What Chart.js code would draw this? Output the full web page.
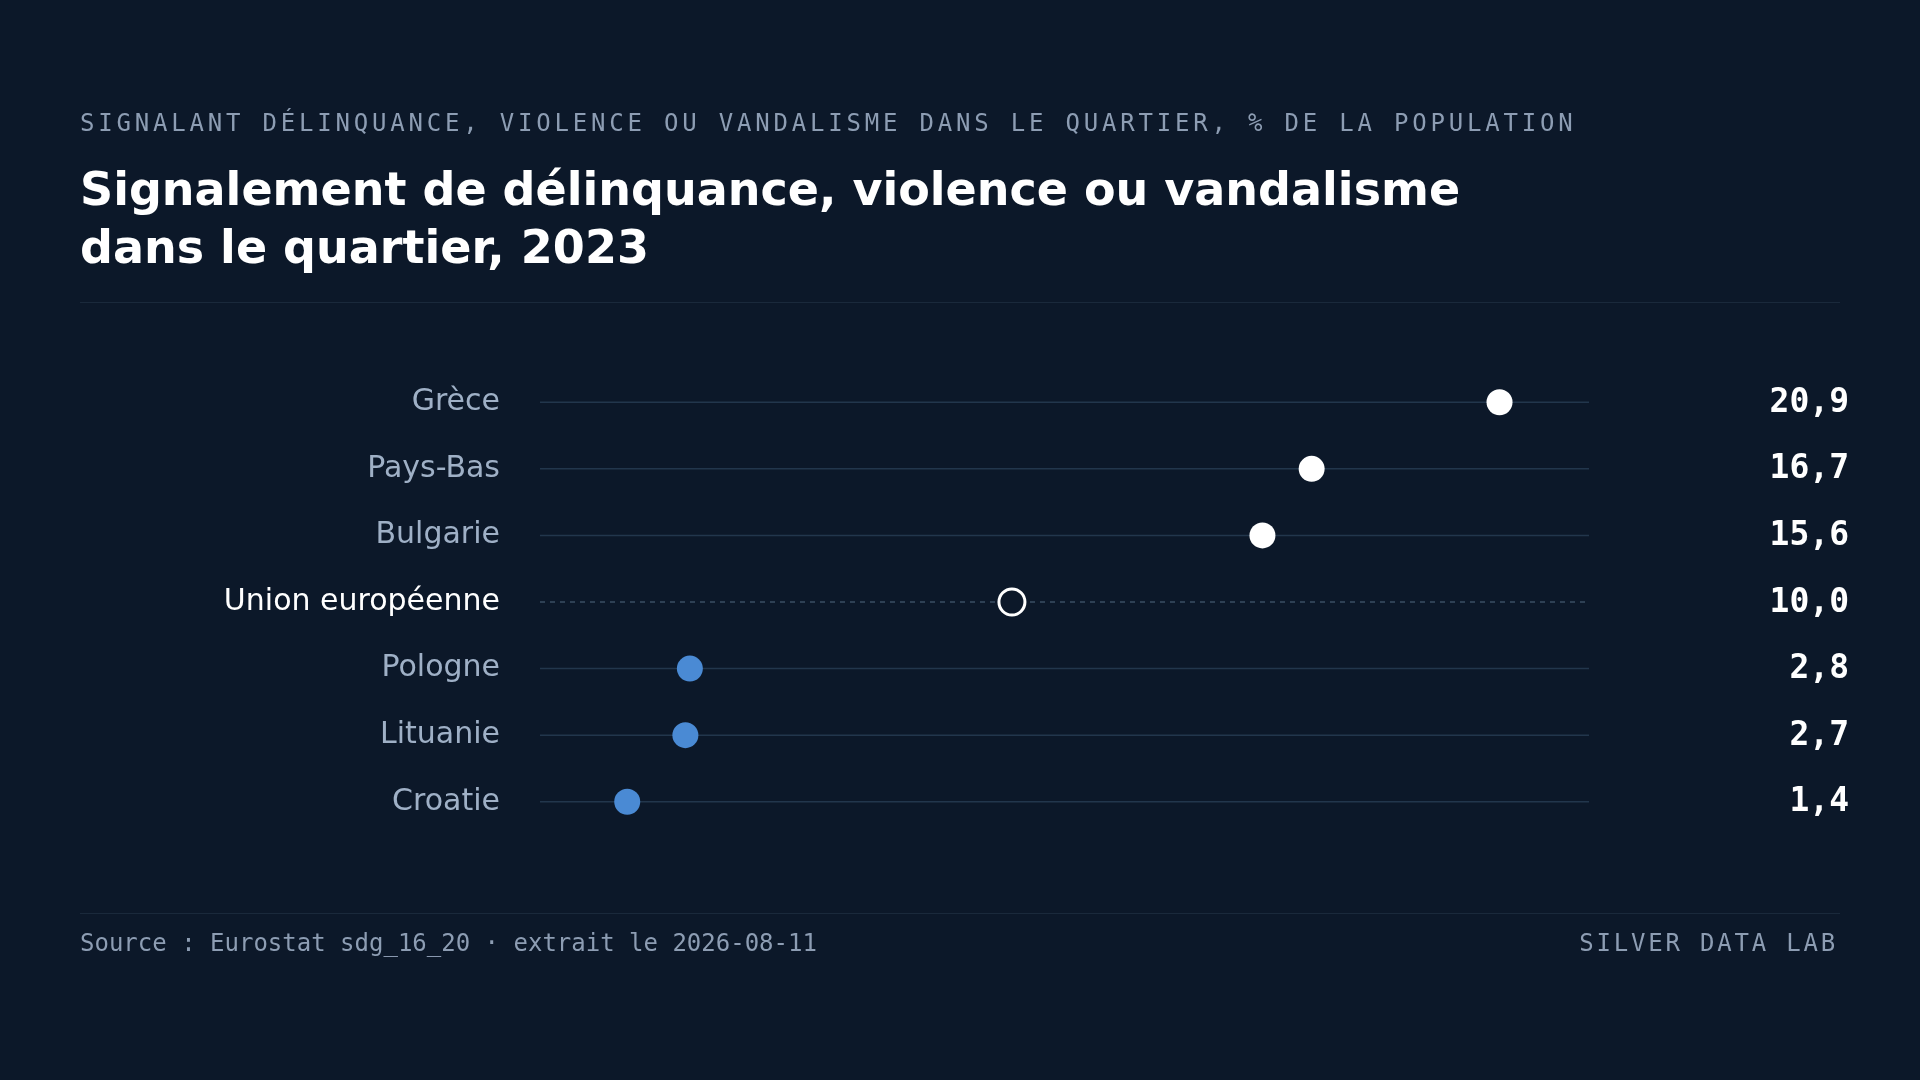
<!DOCTYPE html>
<html>
<head>
<meta charset="utf-8">
<script src="https://cdn.jsdelivr.net/npm/chart.js@4"></script>
<style>
  html, body { margin: 0; padding: 0; background: #0c1829; width: 1920px; height: 1080px; overflow: hidden; }
  #chart { position: absolute; left: 0; top: 0; }
  .txt { position: absolute; white-space: nowrap; }
  #kicker { left: 80px; top: 109px; font: 24px "DejaVu Sans Mono", monospace; letter-spacing: 3.8px; color: #8d9db3; }
  #title { left: 80px; top: 160px; font: bold 46px "DejaVu Sans", sans-serif; line-height: 58px; color: #ffffff; }
  .rule { position: absolute; left: 80px; width: 1760px; height: 1px; background: #1a293b; }
  #source { left: 80px; top: 929px; font: 24px "DejaVu Sans Mono", monospace; color: #8d9db3; }
  #brand { right: 82px; top: 929px; font: 24px "DejaVu Sans Mono", monospace; letter-spacing: 2.8px; color: #8d9db3; }
</style>
</head>
<body>
<canvas id="chart" width="1920" height="1080"></canvas>
<div class="txt" id="kicker">SIGNALANT DÉLINQUANCE, VIOLENCE OU VANDALISME DANS LE QUARTIER, % DE LA POPULATION</div>
<div class="txt" id="title">Signalement de délinquance, violence ou vandalisme<br>dans le quartier, 2023</div>
<div class="rule" style="top:302px"></div>
<div class="rule" style="top:913px"></div>
<div class="txt" id="source">Source : Eurostat sdg_16_20 · extrait le 2026-08-11</div>
<div class="txt" id="brand">SILVER DATA LAB</div>
<script>
const countries = ['Grèce', 'Pays-Bas', 'Bulgarie', 'Union européenne', 'Pologne', 'Lituanie', 'Croatie'];
const values = [20.9, 16.7, 15.6, 10.0, 2.8, 2.7, 1.4];
const euName = 'Union européenne';
const euValue = 10.0;

function dotColor(v, name) {
  if (name === euName) return '#0c1829';
  return v > euValue ? '#ffffff' : '#4a8ad4';
}

const rowsPlugin = {
  id: 'rows',
  beforeDatasetsDraw(chart) {
    const ctx = chart.ctx;
    const area = chart.chartArea;
    const y = chart.scales.y;
    ctx.save();
    countries.forEach((name, i) => {
      const py = y.getPixelForValue(i);
      ctx.beginPath();
      ctx.lineWidth = 1.5;
      ctx.strokeStyle = name === euName ? '#3a4d63' : '#22364c';
      ctx.setLineDash(name === euName ? [5, 5] : []);
      ctx.moveTo(area.left, py);
      ctx.lineTo(area.right, py);
      ctx.stroke();
    });
    ctx.restore();
  },
  afterDatasetsDraw(chart) {
    const ctx = chart.ctx;
    const y = chart.scales.y;
    ctx.save();
    ctx.textBaseline = 'middle';
    countries.forEach((name, i) => {
      const py = y.getPixelForValue(i);
      ctx.textAlign = 'right';
      ctx.font = '30px "DejaVu Sans", sans-serif';
      ctx.fillStyle = name === euName ? '#ffffff' : '#9fb0c6';
      ctx.fillText(name, 500, py);
      ctx.font = 'bold 33px "DejaVu Sans Mono", monospace';
      ctx.fillStyle = '#ffffff';
      ctx.fillText(values[i].toFixed(1).replace('.', ','), 1849, py + 1);
    });
    ctx.restore();
  }
};

new Chart(document.getElementById('chart'), {
  type: 'scatter',
  data: {
    datasets: [{
      data: values.map((v, i) => ({ x: v, y: i })),
      pointRadius: 13,
      pointHoverRadius: 13,
      pointBackgroundColor: values.map((v, i) => dotColor(v, countries[i])),
      pointBorderColor: values.map((v, i) => countries[i] === euName ? '#ffffff' : dotColor(v, countries[i])),
      pointBorderWidth: values.map((v, i) => countries[i] === euName ? 3 : 0),
    }],
  },
  options: {
    responsive: false,
    animation: false,
    layout: { padding: { left: 540, right: 331, top: 369, bottom: 245 } },
    plugins: { legend: { display: false }, tooltip: { enabled: false } },
    scales: {
      x: { display: false, min: -0.55, max: 22.9 },
      y: { display: false, min: -0.5, max: 6.5, reverse: true },
    },
  },
  plugins: [rowsPlugin],
});
</script>
</body>
</html>
